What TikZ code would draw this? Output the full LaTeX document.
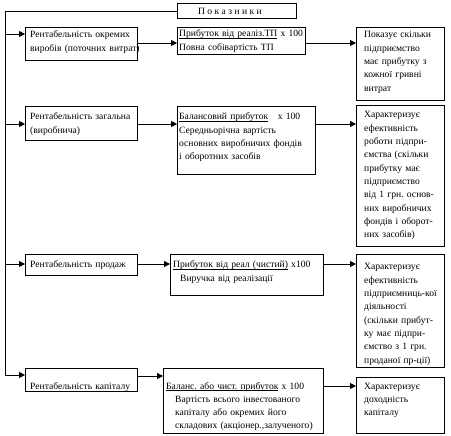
\documentclass[tikz,border=0pt]{standalone}
\usepackage{fontspec}
\setmainfont{Liberation Serif}
\usetikzlibrary{arrows.meta}
\newcommand\myul[1]{\setbox0\hbox{#1}\rlap{\rule[-1.6pt]{\wd0}{0.5pt}}\box0\relax}
\frenchspacing
\begin{document}
\begin{tikzpicture}[x=1pt,y=-1pt,
  box/.style={draw, line width=0.8pt, anchor=north west, inner sep=0pt, rectangle},
  txt/.style={anchor=base west, inner sep=0pt, align=left, text width=150pt, font=\fontsize{9.6}{13.3}\selectfont},
  arr/.style={line width=0.8pt, -{Triangle[length=6pt,width=6pt]}},
  conn/.style={line width=0.8pt}]
\useasboundingbox (0,0) rectangle (451,436);
% boxes
\node[box, minimum width=119pt, minimum height=15pt] (p) at (177,3) {};
\node[box, minimum width=112pt, minimum height=33pt] (a1) at (25,27) {};
\node[box, minimum width=128pt, minimum height=27pt] (b1) at (177,27) {};
\node[box, minimum width=88pt, minimum height=73pt] (c1) at (356,27) {};
\node[box, minimum width=112pt, minimum height=34pt] (a2) at (25,106) {};
\node[box, minimum width=138pt, minimum height=68pt] (b2) at (177,106) {};
\node[box, minimum width=88pt, minimum height=141pt] (c2) at (356,105) {};
\node[box, minimum width=112pt, minimum height=21pt] (a3) at (25,254) {};
\node[box, minimum width=153pt, minimum height=41pt] (b3) at (170,254) {};
\node[box, minimum width=88pt, minimum height=113pt] (c3) at (356,254) {};
\node[box, minimum width=112pt, minimum height=23pt] (a4) at (25,368) {};
\node[box, minimum width=160pt, minimum height=65pt] (b4) at (163,368) {};
\node[box, minimum width=88pt, minimum height=56pt] (c4) at (356,377) {};
% texts
\node[anchor=center, inner sep=0pt, font=\fontsize{9.6}{13.3}\selectfont] (tp) at (230,11) {П о к а з н и к и};
\node[txt] (ta1) at (30,38) {Рентабельність окремих\\виробів (поточних витрат)};
\node[txt] (tb1) at (179,37) {\myul{Прибуток від реаліз.ТП} х 100\\Повна собівартість ТП};
\node[txt] (tc1) at (364,38) {Показує скільки\\підприємство\\має прибутку з\\кожної гривні\\витрат};
\node[txt] (ta2) at (30,120) {Рентабельність загальна\\(виробнича)};
\node[txt] (tb2) at (179,120) {\myul{Балансовий прибуток}\ \ \ х 100\\Середньорічна вартість\\основних виробничих фондів\\і оборотних засобів};
\node[txt] (tc2) at (364,118) {Характеризує\\ефективність\\роботи підпри-\\ємства (скільки\\прибутку має\\підприємство\\від 1 грн. основ-\\них виробничих\\фондів і оборот-\\них засобів)};
\node[txt] (ta3) at (30,268) {Рентабельність продаж};
\node[txt] (tb3) at (173,268) {\myul{Прибуток від реал (чистий)} х100\\\hspace*{7pt}Виручка від реалізації};
\node[txt] (tc3) at (364,270) {Характеризує\\ефективність\\підприємниць-кої\\діяльності\\(скільки прибут-\\ку має підпри-\\ємство з 1 грн.\\проданої пр-ції)};
\node[txt] (ta4) at (30,389) {Рентабельність капіталу};
\node[txt] (tb4) at (166,389) {\myul{Баланс. або чист. прибуток} х 100\\\hspace*{9pt}Вартість всього інвестованого\\\hspace*{9pt}капіталу або окремих його\\\hspace*{9pt}складових (акціонер.,залученого)};
\node[txt] (tc4) at (364,389) {Характеризує\\доходність\\капіталу};
% trunk
\coordinate (tk0) at (5,11);
\coordinate (tk1) at (5,34);
\coordinate (tk2) at (5,124);
\coordinate (tk3) at (5,264);
\coordinate (tk4) at (5,375);
\draw[conn] (p.west |- tk0) -- (tk0) -- (tk4);
\draw[arr] (tk1) -- (tk1 -| a1.west);
\draw[arr] (tk2) -- (tk2 -| a2.west);
\draw[arr] (tk3) -- (tk3 -| a3.west);
\draw[arr] (tk4) -- (tk4 -| a4.west);
% row arrows
\coordinate (r1) at (0,43);
\coordinate (r2) at (0,124);
\coordinate (r3) at (0,264);
\coordinate (r4) at (0,376);
\coordinate (r5) at (0,386);
\draw[arr] (a1.east |- r1) -- (b1.west |- r1);
\draw[arr] (b1.east |- r1) -- (c1.west |- r1);
\draw[arr] (a2.east |- r2) -- (b2.west |- r2);
\draw[arr] (b2.east |- r2) -- (c2.west |- r2);
\draw[arr] (a3.east |- r3) -- (b3.west |- r3);
\draw[arr] (b3.east |- r3) -- (c3.west |- r3);
\draw[arr] (a4.east |- r4) -- (b4.west |- r4);
\draw[arr] (b4.east |- r5) -- (c4.west |- r5);
\end{tikzpicture}
\end{document}
